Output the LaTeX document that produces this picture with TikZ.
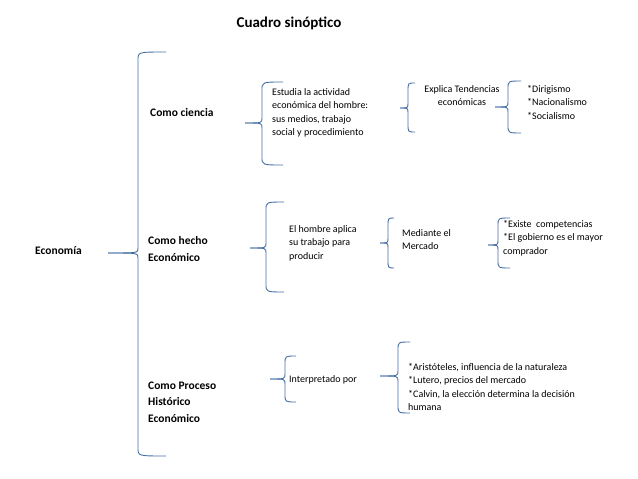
\documentclass[tikz,border=0pt]{standalone}
\usepackage{fontspec}
\setmainfont{Carlito}
\definecolor{brc}{RGB}{70,110,165}
\newcommand\brc[6]{% x, top, bottom, tipx, tipy, endx
\draw[brc,line width=0.9pt] (#6,#2) .. controls (#1,#2) .. (#1,#2+8) -- (#1,#5-5) .. controls (#1,#5) .. (#4,#5);
\draw[brc,line width=0.9pt] (#6,#3) .. controls (#1,#3) .. (#1,#3-8) -- (#1,#5+5) .. controls (#1,#5) .. (#4,#5);}
\begin{document}
\begin{tikzpicture}[x=1pt,y=-1pt,
 sm/.style={anchor=north west,inner sep=0pt,align=left,font=\fontsize{10}{13.5}\selectfont},
 bl/.style={anchor=west,inner sep=0pt,align=left,font=\fontsize{11.5}{16.5}\selectfont\bfseries}]
\useasboundingbox (0,0) rectangle (638,479);
\node[inner sep=0pt,font=\fontsize{15}{17}\selectfont\bfseries] (t) at (289,23) {Cuadro sinóptico};
\node[bl] (eco) at (35,251) {Economía};
\node[bl] (c1) at (150,113) {Como ciencia};
\node[bl] (c2) at (148,249) {Como hecho\\Económico};
\node[bl] (c3) at (148,402) {Como Proceso\\Histórico\\Económico};
\node[sm] (e1) at (272,88) {Estudia la actividad\\económica del hombre:\\sus medios, trabajo\\social y procedimiento};
\node[sm,align=center,anchor=north] (e2) at (462,85) {Explica Tendencias\\económicas};
\node[sm] (e3) at (527,85) {*Dirigismo\\*Nacionalismo\\*Socialismo};
\node[sm] (h1) at (289,225) {El hombre aplica\\su trabajo para\\producir};
\node[sm] (h2) at (402,229) {Mediante el\\Mercado};
\node[sm] (h3) at (503,220) {*Existe \ competencias\\*El gobierno es el mayor\\comprador};
\node[sm] (p1) at (289,375) {Interpretado por};
\node[sm] (p2) at (408,363) {*Aristóteles, influencia de la naturaleza\\*Lutero, precios del mercado\\*Calvin, la elección determina la decisión\\humana};
\brc{138}{52}{456}{108}{253}{166}
\brc{262}{82}{165}{245}{123}{283}
\brc{266}{202}{292}{250}{248}{284}
\brc{388}{218}{268}{380}{243}{394}
\brc{408}{83}{132}{400}{108}{415}
\brc{508}{81}{133}{495}{107}{521}
\brc{498}{218}{268}{488}{245}{510}
\brc{285}{356}{402}{270}{379}{296}
\brc{398}{342}{413}{380}{376}{410}
\end{tikzpicture}
\end{document}
